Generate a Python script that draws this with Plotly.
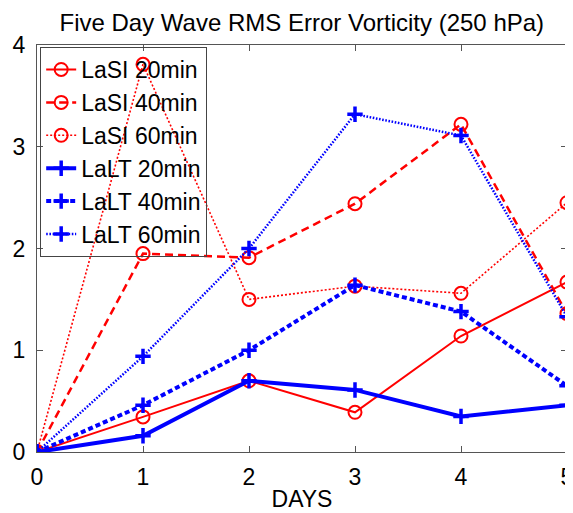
import plotly.graph_objects as go

days = [0, 1, 2, 3, 4, 5]
lasi_20 = [0.0, 0.345, 0.70, 0.39, 1.14, 1.67]
lasi_40 = [0.0, 1.95, 1.91, 2.44, 3.22, 1.36]
lasi_60 = [0.0, 3.81, 1.50, 1.63, 1.56, 2.45]
lalt_20 = [0.0, 0.16, 0.70, 0.61, 0.35, 0.46]
lalt_40 = [0.0, 0.46, 1.00, 1.64, 1.38, 0.65]
lalt_60 = [0.0, 0.94, 2.00, 3.32, 3.11, 1.33]

RED = "#ff0000"
BLUE = "#0000ff"
FONT = "Liberation Sans, Arial, Helvetica, sans-serif"

series = [
    ("LaSI 20min", lasi_20, RED, "solid", 2, "circle-open", 13, 2),
    ("LaSI 40min", lasi_40, RED, "8px,5px", 2.5, "circle-open", 13, 2),
    ("LaSI 60min", lasi_60, RED, "2px,2px", 1.6, "circle-open", 13, 2),
    ("LaLT 20min", lalt_20, BLUE, "solid", 4, "cross-thin-open", 11, 3.5),
    ("LaLT 40min", lalt_40, BLUE, "5px,3px", 4, "cross-thin-open", 11, 3.5),
    ("LaLT 60min", lalt_60, BLUE, "1.6px,1.6px", 2.5, "cross-thin-open", 11, 3.5),
]

fig = go.Figure()
for name, ys, color, dash, lw, sym, msize, mlw in series:
    fig.add_trace(go.Scatter(
        x=days, y=ys, name=name, mode="lines+markers",
        line=dict(color=color, width=lw, dash=dash),
        marker=dict(symbol=sym, size=msize, color=color,
                    line=dict(color=color, width=mlw)),
    ))

axis_common = dict(
    showgrid=False, zeroline=False, showline=True, mirror="ticks",
    linecolor="#555555", linewidth=1, ticks="inside", ticklen=6,
    tickcolor="#555555", tickfont=dict(family=FONT, size=23, color="black"),
    automargin=False, ticklabeloverflow="allow",
)

# page body has an 8px margin, so the figure is shrunk by 8px on left/top
fig.update_layout(
    width=565, height=505,
    margin=dict(l=29, r=6, t=37, b=61),
    paper_bgcolor="white", plot_bgcolor="white",
    title=dict(text="Five Day Wave RMS Error Vorticity (250 hPa)",
               x=0.52, xanchor="center", y=0.972, yanchor="middle",
               font=dict(family=FONT, size=24, color="black"),
               automargin=False),
    xaxis=dict(range=[0, 5], tickvals=days, ticklabelstandoff=4,
               title=dict(text="DAYS", standoff=2,
                          font=dict(family=FONT, size=23, color="black")),
               **axis_common),
    yaxis=dict(range=[0, 4], tickvals=[0, 1, 2, 3, 4], ticklabelstandoff=6,
               **axis_common),
    legend=dict(x=0.006, y=0.995, xanchor="left", yanchor="top",
                bgcolor="rgba(255,255,255,0)", bordercolor="#444444", borderwidth=1,
                font=dict(family=FONT, size=23, color="black"),
                itemwidth=30, tracegroupgap=0),
    showlegend=True,
)

fig.write_html("out.html")
